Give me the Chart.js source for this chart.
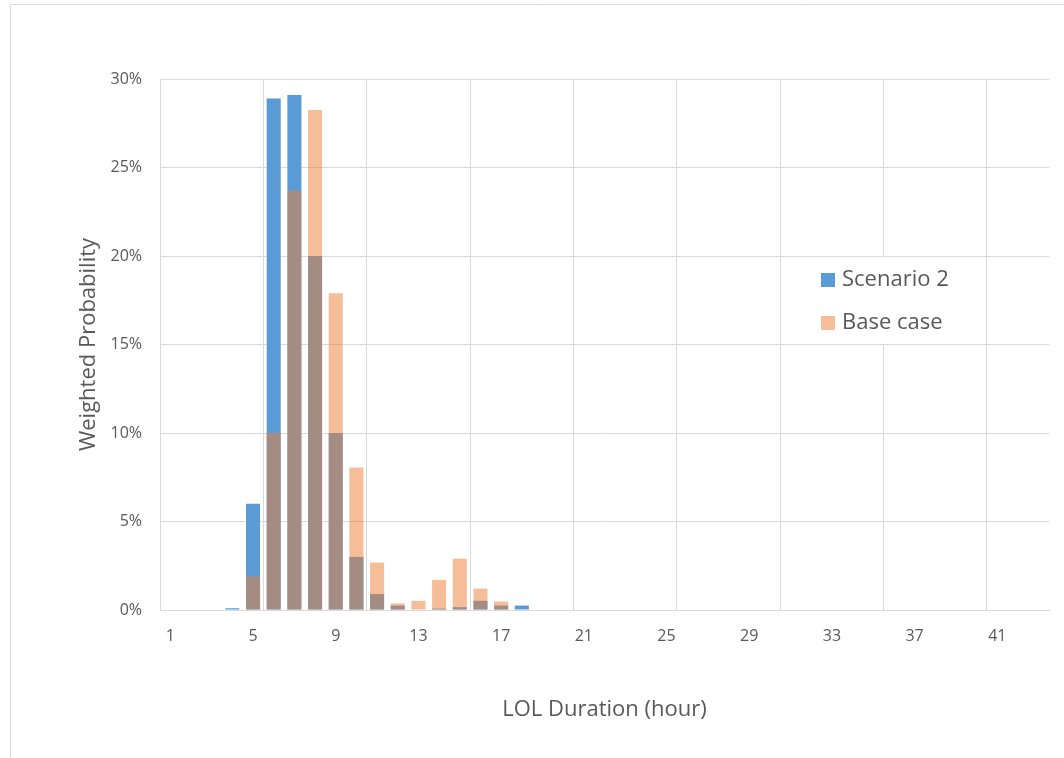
<!DOCTYPE html>
<html>
<head>
<meta charset="utf-8">
<script src="https://cdn.jsdelivr.net/npm/chart.js@4"></script>
<style>
  body { margin: 0; background: #fff; }
</style>
</head>
<body>
<canvas id="chartzz" width="1064" height="758"></canvas>
<script>
// LOL duration categories 1..43 (hours)
const durations = [];
for (let h = 1; h <= 43; h++) durations.push(String(h));

// weighted probability, in percent
const scenario2 = [0, 0, 0, 0.1, 6.0, 28.9, 29.1, 20.0, 10.0, 3.0, 0.9, 0.25, 0, 0.08, 0.16, 0.52, 0.25, 0.25,
	0, 0, 0, 0, 0, 0, 0, 0, 0, 0, 0, 0, 0, 0, 0, 0, 0, 0, 0, 0, 0, 0, 0, 0, 0];
const baseCase = [0, 0, 0, 0, 1.9, 10.0, 23.7, 28.25, 17.9, 8.05, 2.68, 0.37, 0.52, 1.7, 2.9, 1.21, 0.48, 0,
	0, 0, 0, 0, 0, 0, 0, 0, 0, 0, 0, 0, 0, 0, 0, 0, 0, 0, 0, 0, 0, 0, 0, 0, 0];
const yTicks = [0, 5, 10, 15, 20, 25, 30];

const blue = '#5B9BD5';
const orange = 'rgba(237, 125, 49, 0.5)';
const textCol = '#595959';
const gridCol = '#d9d9d9';
const fontFam = '"Open Sans", "DejaVu Sans", sans-serif';

// outer frame of the chart object
const framePlugin = {
	id: 'frame',
	beforeDraw(chart) {
		const c = chart.ctx;
		c.save();
		c.fillStyle = '#fff';
		c.fillRect(0, 0, chart.width, chart.height);
		c.strokeStyle = gridCol;
		c.lineWidth = 1;
		c.beginPath();
		c.moveTo(10.5, chart.height);
		c.lineTo(10.5, 4.5);
		c.lineTo(chart.width, 4.5);
		c.stroke();
		c.restore();
	}
};

// legend box sitting inside the plot
const legendPlugin = {
	id: 'insideLegend',
	afterDraw(chart) {
		const c = chart.ctx;
		c.save();
		c.fillStyle = '#fff';
		c.fillRect(783, 257, 202, 87);
		c.font = '22px ' + fontFam;
		c.textBaseline = 'middle';
		const items = [chart.data.datasets[0], chart.data.datasets[1]];
		items.forEach(function (ds, i) {
			const y = 280 + i * 43;
			c.fillStyle = '#fff';
			c.fillRect(821, y - 7, 14, 14);
			c.fillStyle = ds.backgroundColor;
			c.fillRect(821, y - 7, 14, 14);
			c.fillStyle = textCol;
			c.fillText(ds.label, 842, y);
		});
		c.restore();
	}
};

const ctx1 = document.getElementById('chartzz');
const chartzz = new Chart(ctx1, {
	type: 'bar',
	data: {
		labels: durations,
		datasets: [{
			label: 'Scenario 2',
			data: scenario2,
			backgroundColor: blue,
			order: 1
		}, {
			label: 'Base case',
			data: baseCase,
			backgroundColor: orange,
			order: 0
		}]
	},
	options: {
		responsive: false,
		animation: false,
		layout: { padding: { left: 68, top: 79, right: 15, bottom: 0 } },
		datasets: {
			bar: { grouped: false, barPercentage: 0.68, categoryPercentage: 1 }
		},
		plugins: {
			legend: { display: false },
			tooltip: { enabled: false }
		},
		scales: {
			x: {
				offset: true,
				grid: {
					offset: true,
					drawTicks: false,
					color: function (c) { return c.index % 5 === 0 ? gridCol : 'rgba(0,0,0,0)'; }
				},
				border: { display: true, color: gridCol },
				ticks: {
					autoSkip: false,
					maxRotation: 0,
					padding: 17,
					color: textCol,
					font: { family: fontFam, size: 16 },
					callback: function (v, i) { return i % 4 === 0 ? this.getLabelForValue(v) : ''; }
				},
				title: {
					display: true,
					text: 'LOL Duration (hour)',
					color: textCol,
					font: { family: fontFam, size: 22 },
					padding: { top: 0, bottom: 35 }
				},
				afterFit: function (s) { s.height = 148; }
			},
			y: {
				min: 0,
				max: 30,
				afterBuildTicks: function (s) { s.ticks = yTicks.map(v => ({ value: v })); },
				grid: { color: gridCol, drawTicks: false },
				border: { display: false },
				ticks: {
					padding: 18,
					color: textCol,
					font: { family: fontFam, size: 16 },
					callback: function (v) { return v + '%'; }
				},
				title: {
					display: true,
					text: 'Weighted Probability',
					color: textCol,
					font: { family: fontFam, size: 22 },
					padding: { top: 8, bottom: 0 }
				},
				afterFit: function (s) { s.width = 92; }
			}
		}
	},
	plugins: [framePlugin, legendPlugin]
});
</script>
</body>
</html>
